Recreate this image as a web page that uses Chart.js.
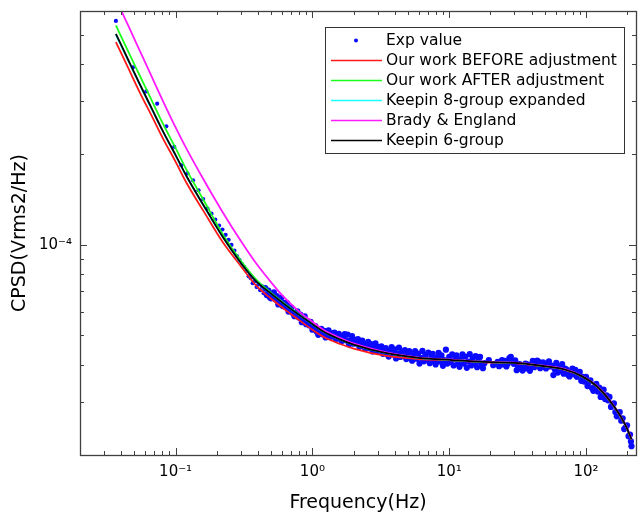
<!DOCTYPE html>
<html>
<head>
<meta charset="utf-8">
<script src="https://cdn.jsdelivr.net/npm/chart.js@4.4.0/dist/chart.umd.min.js"></script>
<style>
html,body{margin:0;padding:0;background:#ffffff;}
#wrap{width:640px;height:517px;position:relative;}
</style>
</head>
<body>
<div id="wrap"><canvas id="c" width="640" height="517"></canvas></div>
<script>
// ---------- DATA (values in units of 1e-5 Vrms2/Hz) ----------
const VALUE_UNIT = 1e-5;

// model curves
const curveFreq = [0.0366,0.045,0.055,0.067,0.08,0.1,0.12,0.16,0.222,0.3,0.39,0.5,0.61,0.8,1.0,1.2,1.6,2.0,3.4,6,10.5,18,32,45,70,93,123,163,193,215];
const beforeAdj = [47.3,38.8,32.0,26.8,22.8,18.9,16.1,12.95,10.18,8.50,7.30,6.62,6.16,5.62,5.22,4.95,4.68,4.52,4.28,4.17,4.13,4.07,4.03,3.96,3.84,3.65,3.34,2.86,2.52,2.25];
const afterAdj  = [53.7,44.0,36.4,30.2,25.5,21.0,17.8,14.1,10.82,8.85,7.65,6.92,6.43,5.87,5.46,5.16,4.85,4.67,4.38,4.21,4.14,4.08,4.04,3.97,3.85,3.66,3.35,2.87,2.53,2.26];
const keepin8   = [50.0,41.0,33.9,28.2,24.0,19.8,16.9,13.5,10.58,8.70,7.55,6.88,6.40,5.85,5.45,5.15,4.84,4.66,4.37,4.21,4.14,4.08,4.04,3.97,3.85,3.66,3.35,2.87,2.53,2.26];
const bradyEngland = [65.6,53.7,44.0,36.2,30.4,24.6,20.9,16.5,12.8,10.3,8.65,7.5,6.75,6.0,5.55,5.22,4.90,4.70,4.40,4.22,4.15,4.09,4.05,3.98,3.86,3.67,3.36,2.88,2.54,2.27];
const keepin6   = [50.4,41.3,34.1,28.4,24.1,19.9,16.95,13.55,10.6,8.71,7.55,6.88,6.40,5.85,5.45,5.15,4.84,4.66,4.37,4.21,4.14,4.08,4.04,3.97,3.85,3.66,3.35,2.87,2.53,2.26];

// experimental points
const expFreq = [
 0.0366,0.0488,0.0611,0.0733,0.0855,0.0977,0.110,0.122,0.134,0.147,0.159,0.171,0.183,0.195,0.208,0.220,0.232,0.244,0.256,0.269,
 0.281,0.293,0.305,0.318,0.330,0.342,0.354,0.366,0.379,0.391,0.403,0.415,0.427,0.440,0.452,0.464,0.476,0.488,
 0.498,0.510,0.523,0.536,0.549,0.563,0.577,0.592,0.607,0.622,0.637,0.653,0.669,0.686,0.703,0.721,0.739,0.757,0.776,0.796,0.816,0.836,0.857,0.878,0.900,0.923,0.946,0.970,
 1.000,1.025,1.051,1.077,1.104,1.131,1.160,1.189,1.218,1.249,1.280,1.312,1.345,1.379,1.413,1.448,1.485,1.522,1.560,1.599,
 1.639,1.680,1.722,1.765,1.809,1.854,1.900,1.948,1.996,2.046,2.098,2.150,2.204,2.259,2.315,2.373,2.433,2.493,2.556,2.620,
 2.685,2.752,2.821,2.892,2.964,3.038,3.114,3.192,3.271,3.353,3.437,3.523,3.611,3.701,3.794,3.889,3.986,4.086,4.188,4.292,
 4.400,4.510,4.622,4.738,4.856,4.978,5.102,5.230,5.360,5.494,5.632,5.772,5.917,6.065,6.216,6.372,6.531,6.694,6.862,7.033,
 7.209,7.389,7.574,7.763,7.957,8.156,8.360,8.569,8.783,9.003,9.228,9.459,9.695,
 10.00,10.25,10.51,10.77,11.04,11.31,11.60,11.89,12.18,12.49,12.80,13.12,13.45,13.79,14.13,14.48,14.85,15.22,15.60,15.99,16.39,16.80,17.22,17.65,
 18.09,19.48,20.98,22.59,
 23.15,23.73,24.33,24.93,25.56,26.20,26.85,27.52,28.21,28.92,29.64,30.38,
 31.14,31.92,32.71,33.53,34.37,35.23,36.11,37.01,37.94,38.89,39.86,
 40.86,41.88,42.92,44.00,45.10,46.22,47.38,48.56,49.78,51.02,52.30,53.60,54.94,
 56.32,57.72,59.17,60.65,62.16,63.72,65.31,66.94,68.62,70.33,
 72.09,73.89,75.74,77.63,79.57,81.56,83.60,85.69,87.83,
 90.03,92.28,94.59,96.95,
 100.0,102.5,105.1,107.7,110.4,113.1,116.0,118.9,121.8,124.9,128.0,131.2,134.5,137.9,141.3,144.8,148.5,152.2,156.0,159.9,
 163.9,168.0,172.2,176.5,180.9,185.4,190.0,194.8,199.6,204.6,209.8,213.0,215.0
];
const expVals = [
 55.6,39.0,32.4,29.5,24.8,21.2,18.4,17.3,16.4,15.2,14.2,13.2,12.7,12.15,11.6,11.25,10.8,10.4,10.0,9.58,
 9.17,8.90,8.63,8.43,8.18,7.87,7.75,7.46,7.57,7.24,7.40,7.07,7.29,6.91,7.18,6.81,7.05,6.70,
 6.64,6.84,6.95,6.59,6.76,6.34,6.48,6.67,6.26,6.42,6.21,6.40,6.00,6.13,6.19,5.92,5.79,5.94,6.01,5.73,5.86,5.53,5.63,5.78,5.45,5.57,5.40,5.55,
 5.22,5.32,5.37,5.14,5.02,5.16,5.26,5.04,5.18,4.92,5.05,5.20,4.94,5.08,4.96,5.11,4.86,4.98,5.06,4.86,
 4.79,4.94,5.05,4.81,5.03,4.67,4.80,4.97,4.69,4.83,4.70,4.86,4.58,4.72,4.80,4.59,4.51,4.67,4.76,4.54,
 4.68,4.42,4.54,4.70,4.43,4.57,4.45,4.60,4.34,4.47,4.54,4.33,4.25,4.45,4.57,4.32,4.49,4.19,4.34,4.55,
 4.24,4.41,4.27,4.47,4.17,4.32,4.43,4.19,4.12,4.30,4.43,4.18,4.35,4.03,4.21,4.44,4.10,4.30,4.15,4.38,
 4.04,4.22,4.34,4.09,4.00,4.22,4.37,4.09,4.29,3.96,4.14,4.48,4.03,
 4.24,4.08,4.32,3.97,4.16,4.29,4.02,3.93,4.17,4.32,4.03,4.25,3.90,4.09,4.33,3.97,4.19,4.03,4.27,3.92,4.11,4.24,3.97,3.89,
 4.04,4.14,3.98,4.08,
 3.95,4.07,4.14,4.00,4.11,3.94,4.03,4.20,4.24,4.09,4.02,4.13,
 3.83,3.94,4.01,3.87,3.82,3.95,4.03,3.88,4.00,3.81,3.92,
 4.11,3.92,4.03,4.12,4.08,3.89,4.00,4.07,3.93,3.88,4.01,4.10,3.94,
 3.97,3.69,3.85,4.05,3.76,3.94,3.81,4.01,3.73,3.88,
 3.85,3.70,3.65,3.79,3.88,3.71,3.84,3.64,3.75,
 3.78,3.53,3.64,3.51,
 3.64,3.39,3.49,3.54,3.34,3.27,3.38,3.45,3.25,3.35,3.12,3.20,3.30,3.07,3.16,3.04,3.12,2.89,2.95,2.97,
 2.78,2.69,2.76,2.78,2.60,2.65,2.44,2.47,2.51,2.31,2.34,2.22,2.14
];

// tick labels
const xTickValues = [0.1, 1, 10, 100];
const xTickLabels = ['10\u207B\u00B9', '10\u2070', '10\u00B9', '10\u00B2'];
const yTickValues = [1e-4];
const yTickLabels = ['10\u207B\u2074'];

const seriesLabels = ['Exp value','Our work BEFORE adjustment','Our work AFTER adjustment','Keepin 8-group expanded','Brady & England','Keepin 6-group'];

// ---------- BUILD ----------
function pts(xs, ys) { return xs.map((x, i) => ({x: x, y: ys[i] * VALUE_UNIT})); }
function labelFor(values, labels) {
  return function (v) {
    const i = values.findIndex(t => Math.abs(v / t - 1) < 1e-6);
    return i >= 0 ? labels[i] : '';
  };
}
function lineDs(label, data, color, order) {
  return {label, data: pts(curveFreq, data), showLine: true, borderColor: color, backgroundColor: color,
    borderWidth: 1.8, pointRadius: 0, cubicInterpolationMode: 'monotone', fill: false, order};
}

Chart.defaults.font.family = '"DejaVu Sans", sans-serif';
Chart.defaults.color = '#000';

const frameTicks = {
  id: 'frameTicks',
  afterDatasetsDraw(chart) {
    const {ctx, chartArea: a, scales: {x, y}} = chart;
    ctx.save();
    ctx.strokeStyle = '#404040';
    ctx.lineWidth = 1;
    ctx.beginPath();
    for (let d = -2; d <= 2; d++) {
      for (let m = 1; m <= 9; m++) {
        const v = m * Math.pow(10, d);
        if (v < x.min || v > x.max) continue;
        const px = Math.round(x.getPixelForValue(v)) + 0.5;
        const len = m === 1 ? 7 : 4;
        ctx.moveTo(px, a.bottom); ctx.lineTo(px, a.bottom - len);
        ctx.moveTo(px, a.top); ctx.lineTo(px, a.top + len);
      }
    }
    for (let d = -5; d <= -3; d++) {
      for (let m = 1; m <= 9; m++) {
        const v = m * Math.pow(10, d);
        if (v < y.min || v > y.max) continue;
        const py = Math.round(y.getPixelForValue(v)) + 0.5;
        const len = m === 1 ? 7 : 4;
        ctx.moveTo(a.left, py); ctx.lineTo(a.left + len, py);
        ctx.moveTo(a.right, py); ctx.lineTo(a.right - len, py);
      }
    }
    ctx.stroke();
    ctx.lineWidth = 1.3;
    ctx.strokeRect(Math.round(a.left) + 0.5, Math.round(a.top) + 0.5, Math.round(a.right - a.left), Math.round(a.bottom - a.top));
    ctx.restore();
  }
};

const boxLegend = {
  id: 'boxLegend',
  afterDraw(chart) {
    const {ctx, chartArea: a} = chart;
    const x0 = a.right - 311, y0 = a.top + 16, w = 299, h = 126;
    ctx.save();
    ctx.fillStyle = '#ffffff';
    ctx.fillRect(x0, y0, w, h);
    ctx.strokeStyle = '#333333';
    ctx.lineWidth = 1;
    ctx.strokeRect(x0 + 0.5, y0 + 0.5, w, h);
    ctx.font = '15.5px "DejaVu Sans"';
    ctx.textBaseline = 'middle';
    ctx.textAlign = 'left';
    chart.data.datasets.forEach((ds, i) => {
      const yy = y0 + 13.5 + i * 20;
      if (ds.showLine) {
        ctx.strokeStyle = ds.borderColor;
        ctx.lineWidth = 1.5;
        ctx.beginPath(); ctx.moveTo(x0 + 6, yy); ctx.lineTo(x0 + 57, yy); ctx.stroke();
      } else {
        ctx.fillStyle = ds.pointBackgroundColor;
        ctx.beginPath(); ctx.arc(x0 + 31, yy, 2, 0, Math.PI * 2); ctx.fill();
      }
      ctx.fillStyle = '#000';
      ctx.fillText(ds.label, x0 + 61, yy);
    });
    ctx.restore();
  }
};

new Chart(document.getElementById('c'), {
  type: 'scatter',
  data: {
    datasets: [
      {label: seriesLabels[0], data: pts(expFreq, expVals), showLine: false,
       pointRadius: (c) => (c.raw && c.raw.x >= 0.45 ? 3.1 : 2.1),
       pointBackgroundColor: '#0a0aff', pointBorderColor: '#0a0aff', pointBorderWidth: 0, order: 10},
      lineDs(seriesLabels[1], beforeAdj, '#ff1a1a', 5),
      lineDs(seriesLabels[2], afterAdj, '#1aff1a', 4),
      lineDs(seriesLabels[3], keepin8, '#1affff', 3),
      lineDs(seriesLabels[4], bradyEngland, '#ff1aff', 2),
      lineDs(seriesLabels[5], keepin6, '#000000', 1)
    ]
  },
  options: {
    responsive: false,
    animation: false,
    devicePixelRatio: 1,
    events: [],
    layout: {padding: {top: 11, right: 2, left: 0, bottom: 0}},
    plugins: {legend: {display: false}, tooltip: {enabled: false}},
    scales: {
      x: {
        type: 'logarithmic', position: 'bottom', min: 0.02, max: 232,
        grid: {display: false, drawTicks: false}, border: {display: false},
        ticks: {autoSkip: false, maxRotation: 0, padding: 8, font: {size: 15}, color: '#000',
                callback: labelFor(xTickValues, xTickLabels)},
        title: {display: true, text: 'Frequency(Hz)', font: {size: 19}, color: '#000', padding: {top: 0, bottom: 3}},
        afterFit(s) { s.height = 62; s.paddingLeft = 0; s.paddingRight = 0; }
      },
      y: {
        type: 'logarithmic', position: 'left', min: 2e-5, max: 6e-4,
        grid: {display: false, drawTicks: false}, border: {display: false},
        ticks: {autoSkip: false, padding: 8, font: {size: 15}, color: '#000',
                callback: labelFor(yTickValues, yTickLabels)},
        title: {display: true, text: 'CPSD(Vrms2/Hz)', font: {size: 19}, color: '#000', padding: {top: 9, bottom: 0}},
        afterFit(s) { s.width = 80; s.paddingTop = 0; s.paddingBottom = 0; }
      }
    }
  },
  plugins: [frameTicks, boxLegend]
});
</script>
</body>
</html>
